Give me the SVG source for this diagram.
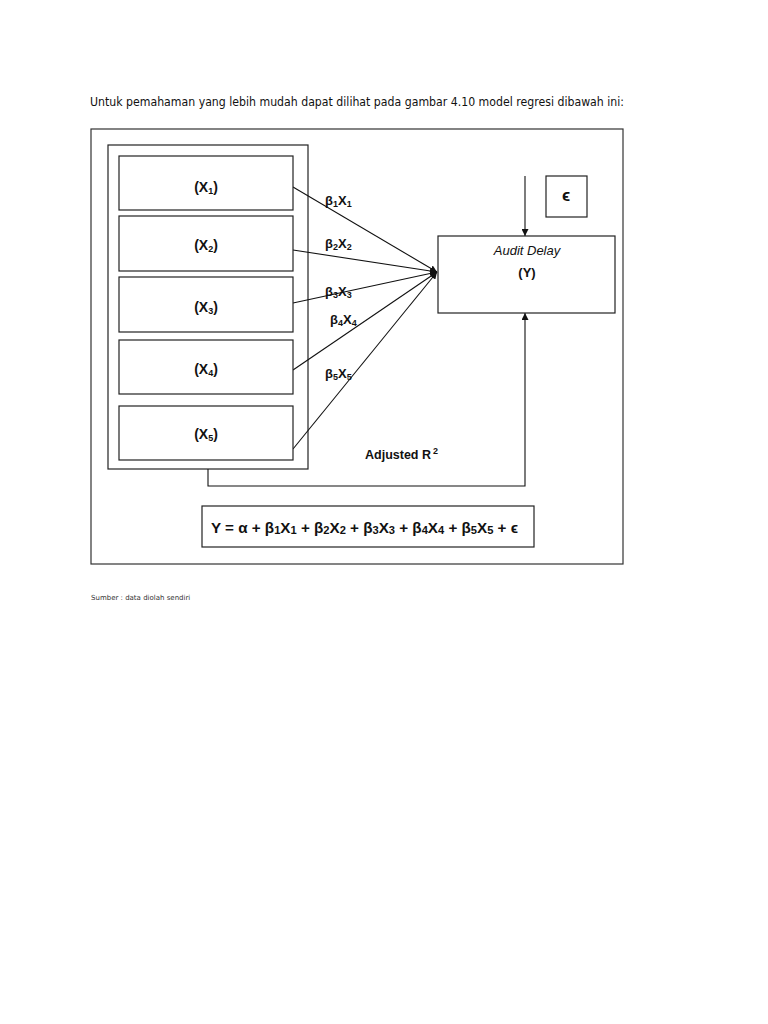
<svg xmlns="http://www.w3.org/2000/svg" width="768" height="1024" viewBox="0 0 768 1024">
<style>
.bx{fill:#fff;stroke:#222;stroke-width:1.2}
.ln{fill:none;stroke:#111;stroke-width:1.1}
.lb{font-family:"Liberation Sans",Arial,sans-serif;font-weight:bold;font-size:13px;fill:#111}
.big{font-size:14px}
.it{font-style:italic;font-weight:normal}
.sub{font-size:9px}
.hd{font-family:"DejaVu Sans",Verdana,sans-serif;font-size:12px;fill:#111}
</style>
<defs>
<marker id="ah" viewBox="0 0 10 10" refX="10" refY="5" markerWidth="7" markerHeight="7" orient="auto" markerUnits="userSpaceOnUse">
<path d="M0,0 L10,5 L0,10 z" fill="#111"/>
</marker>
</defs>
<rect width="768" height="1024" fill="#fff"/>
<text class="hd" x="90" y="106" textLength="534" lengthAdjust="spacingAndGlyphs">Untuk pemahaman yang lebih mudah dapat dilihat pada gambar 4.10 model regresi dibawah ini:</text>
<rect x="91" y="129" width="532" height="435" fill="none" stroke="#333" stroke-width="1.2"/>
<g id="container"><rect class="bx" x="108" y="145" width="200" height="324"/></g>
<g id="connectors">
<line class="ln" x1="293" y1="187" x2="437" y2="272" marker-end="url(#ah)"/>
<line class="ln" x1="293" y1="250" x2="437" y2="272" marker-end="url(#ah)"/>
<line class="ln" x1="293" y1="303" x2="437" y2="272" marker-end="url(#ah)"/>
<line class="ln" x1="293" y1="370" x2="437" y2="272" marker-end="url(#ah)"/>
<line class="ln" x1="293" y1="449" x2="437" y2="272" marker-end="url(#ah)"/>
<line class="ln" x1="525" y1="176" x2="525" y2="236" marker-end="url(#ah)"/>
<polyline class="ln" points="208,469 208,486 525,486 525,313" marker-end="url(#ah)"/>
</g>
<g id="x1"><rect class="bx" x="119" y="156" width="174" height="54"/><text class="lb big" x="206" y="192" text-anchor="middle">(X<tspan class="sub" dy="2">1</tspan><tspan dy="-2">)</tspan></text></g>
<g id="x2"><rect class="bx" x="119" y="216" width="174" height="55"/><text class="lb big" x="206" y="250" text-anchor="middle">(X<tspan class="sub" dy="2">2</tspan><tspan dy="-2">)</tspan></text></g>
<g id="x3"><rect class="bx" x="119" y="277" width="174" height="55"/><text class="lb big" x="206" y="312" text-anchor="middle">(X<tspan class="sub" dy="2">3</tspan><tspan dy="-2">)</tspan></text></g>
<g id="x4"><rect class="bx" x="119" y="340" width="174" height="54"/><text class="lb big" x="206" y="374" text-anchor="middle">(X<tspan class="sub" dy="2">4</tspan><tspan dy="-2">)</tspan></text></g>
<g id="x5"><rect class="bx" x="119" y="406" width="174" height="54"/><text class="lb big" x="206" y="439" text-anchor="middle">(X<tspan class="sub" dy="2">5</tspan><tspan dy="-2">)</tspan></text></g>
<g id="y"><rect class="bx" x="438" y="236" width="177" height="77"/>
<text class="lb it" x="527" y="255" text-anchor="middle">Audit Delay</text>
<text class="lb" x="527" y="277" text-anchor="middle">(Y)</text></g>
<g id="eps"><rect class="bx" x="546" y="176" width="41" height="41"/><text class="lb" x="566" y="201" text-anchor="middle" style="font-size:17px">ϵ</text></g>
<g id="labels" class="lb">
<text x="325" y="205">β<tspan class="sub" dy="2">1</tspan><tspan dy="-2">X</tspan><tspan class="sub" dy="2">1</tspan></text>
<text x="325" y="248">β<tspan class="sub" dy="2">2</tspan><tspan dy="-2">X</tspan><tspan class="sub" dy="2">2</tspan></text>
<text x="325" y="296">β<tspan class="sub" dy="2">3</tspan><tspan dy="-2">X</tspan><tspan class="sub" dy="2">3</tspan></text>
<text x="330" y="324">β<tspan class="sub" dy="2">4</tspan><tspan dy="-2">X</tspan><tspan class="sub" dy="2">4</tspan></text>
<text x="325" y="378">β<tspan class="sub" dy="2">5</tspan><tspan dy="-2">X</tspan><tspan class="sub" dy="2">5</tspan></text>
<text x="365" y="459" style="font-size:12.5px">Adjusted R<tspan class="sub" dy="-5" dx="2">2</tspan></text>
</g>
<g id="equation"><rect class="bx" x="202" y="506" width="332" height="41"/>
<text class="lb" x="211" y="533" style="font-size:15px" textLength="307" lengthAdjust="spacingAndGlyphs">Y = α + β<tspan style="font-size:11px" dy="1">1</tspan><tspan dy="-1">X</tspan><tspan style="font-size:11px" dy="1">1</tspan><tspan dy="-1"> + β</tspan><tspan style="font-size:11px" dy="1">2</tspan><tspan dy="-1">X</tspan><tspan style="font-size:11px" dy="1">2</tspan><tspan dy="-1"> + β</tspan><tspan style="font-size:11px" dy="1">3</tspan><tspan dy="-1">X</tspan><tspan style="font-size:11px" dy="1">3</tspan><tspan dy="-1"> + β</tspan><tspan style="font-size:11px" dy="1">4</tspan><tspan dy="-1">X</tspan><tspan style="font-size:11px" dy="1">4</tspan><tspan dy="-1"> + β</tspan><tspan style="font-size:11px" dy="1">5</tspan><tspan dy="-1">X</tspan><tspan style="font-size:11px" dy="1">5</tspan><tspan dy="-1"> + ϵ</tspan></text></g>
<text x="91" y="600" font-family="DejaVu Sans,Verdana,sans-serif" font-size="7px" fill="#333">Sumber : data diolah sendiri</text>
</svg>
